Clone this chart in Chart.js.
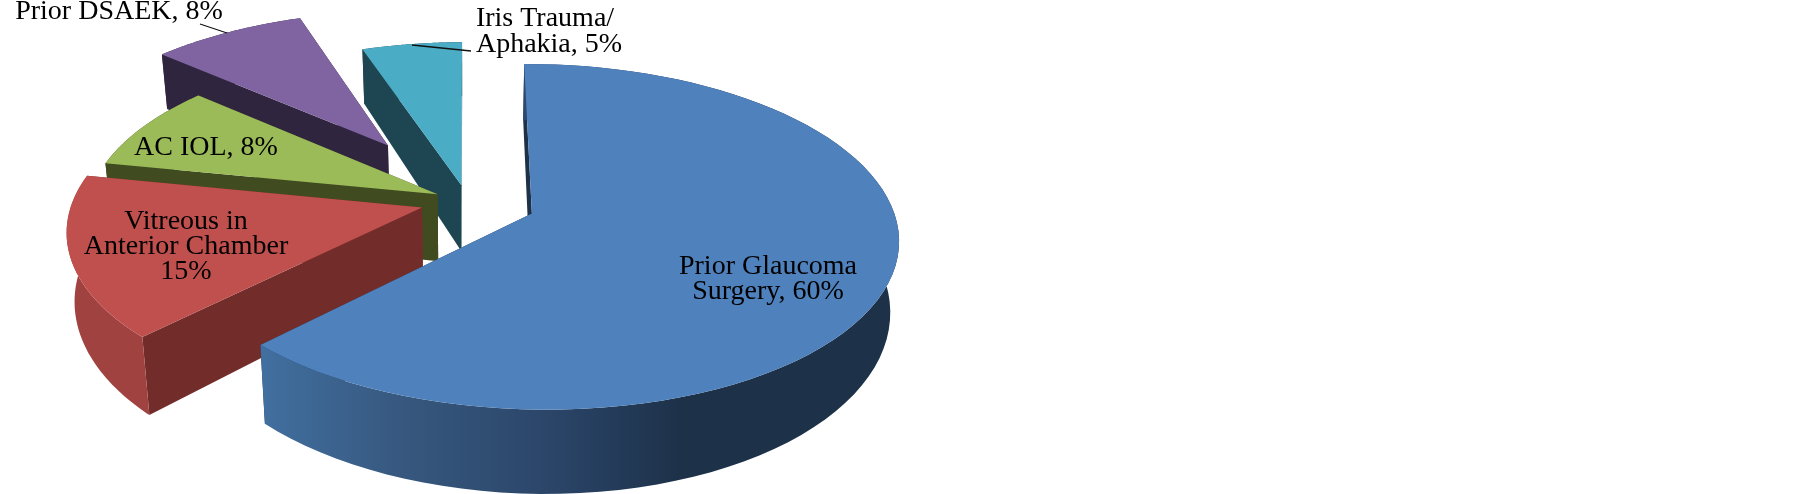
<!DOCTYPE html>
<html>
<head>
<meta charset="utf-8">
<style>
  html, body { margin: 0; padding: 0; background: #fff; }
  canvas { display: block; }
</style>
<script src="https://cdn.jsdelivr.net/npm/chart.js@4/dist/chart.umd.min.js"></script>
</head>
<body>
<canvas id="pie3d" width="1805" height="494"></canvas>
<script>
// --- Data ---
const categories = ['Prior Glaucoma Surgery', 'Vitreous in Anterior Chamber', 'AC IOL', 'Prior DSAEK', 'Iris Trauma/Aphakia'];
const percentValues = [60, 15, 8, 8, 5];

// --- Slice styles ---
const topColors = ['#4f81bd', '#c0504d', '#9bbb59', '#8064a2', '#4bacc6'];
const cutColors = ['#1d3149', '#722d2b', '#404b20', '#30253f', '#1e4652'];
const explode = [40, 27, 19, 86, 20];

// outer wall shading, left to right (x in canvas px)
const wallStops = [
    [[263, '#416f9f'], [400, '#37587f'], [560, '#2a4467'], [680, '#1d3149'], [900, '#1d3149']],
    [[66, '#a04340'], [142, '#a04340']],
    [[100, '#404b20'], [200, '#404b20']],
    [[160, '#30253f'], [300, '#30253f']],
    [[360, '#1e4652'], [470, '#1e4652']]
];

// --- Label layout: text lines, centre x, first baseline ---
const labelLayout = [
    { lines: ['Prior Glaucoma', 'Surgery, 60%'], x: 768, y: 274 },
    { lines: ['Vitreous in', 'Anterior Chamber', '15%'], x: 186, y: 229 },
    { lines: ['AC IOL, 8%'], x: 206, y: 155 },
    { lines: ['Prior DSAEK, 8%'], x: 119, y: 19 },
    { lines: ['Iris Trauma/'], x: 545, y: 26 },
    { lines: ['Aphakia, 5%'], x: 549, y: 52 }
];
const leaderLines = [
    [200, 24, 227, 33],
    [412, 45, 471, 51]
];

// Camera used to lay the flat pie down
const view = { cx: 467, cy: 201, A: 354, B: 166, D: 69, p: 0.133, q: 0.02, r: 0.01, g: 0.12 };

function project(u, v, z) {
    const s = 1 / (1 - view.p * v - view.r * u + view.q * z);
    return [view.cx + view.A * u * s, view.cy + (view.B * v + view.D * z * (1 + view.g * v)) * s];
}

function polygon(ctx, pts) {
    ctx.beginPath();
    pts.forEach((pt, i) => i ? ctx.lineTo(pt[0], pt[1]) : ctx.moveTo(pt[0], pt[1]));
    ctx.closePath();
}

// Draws the arcs that chart.js computed as tilted wedges with depth
const tiltedPie = {
    id: 'tiltedPie',
    beforeDatasetsDraw(chart) {
        const ctx = chart.ctx;
        const arcs = chart.getDatasetMeta(0).data;

        for (let i = arcs.length - 1; i >= 0; i--) {
            const arc = arcs[i];
            const R = arc.outerRadius;
            const mid = (arc.startAngle + arc.endAngle) / 2;
            const ox = Math.cos(mid) * arc.options.offset / R;
            const oy = Math.sin(mid) * arc.options.offset / R;

            const rim = [];
            const steps = 80;
            for (let k = 0; k <= steps; k++) {
                const a = arc.startAngle + (arc.endAngle - arc.startAngle) * k / steps;
                rim.push([ox + Math.cos(a), oy + Math.sin(a)]);
            }
            const topRim = rim.map(p => project(p[0], p[1], 0));
            const lowRim = rim.map(p => project(p[0], p[1], 1));
            const apexTop = project(ox, oy, 0);
            const apexLow = project(ox, oy, 1);

            // cut faces
            ctx.fillStyle = cutColors[i];
            polygon(ctx, [apexTop, topRim[0], lowRim[0], apexLow]);
            ctx.fill();
            polygon(ctx, [apexTop, topRim[steps], lowRim[steps], apexLow]);
            ctx.fill();

            // outer wall
            const stops = wallStops[i];
            const x0 = stops[0][0];
            const x1 = stops[stops.length - 1][0];
            const grad = ctx.createLinearGradient(x0, 0, x1, 0);
            stops.forEach(s => grad.addColorStop((s[0] - x0) / (x1 - x0), s[1]));
            ctx.fillStyle = grad;
            polygon(ctx, topRim.concat(lowRim.slice().reverse()));
            ctx.fill();

            // top face
            ctx.fillStyle = arc.options.backgroundColor;
            polygon(ctx, [apexTop].concat(topRim));
            ctx.fill();
        }
        return false;
    },
    // afterDatasetsDraw is skipped once the hook above cancels, so labels go here
    afterDraw(chart) {
        const ctx = chart.ctx;
        ctx.save();
        ctx.strokeStyle = '#111';
        ctx.lineWidth = 1.3;
        leaderLines.forEach(l => {
            ctx.beginPath();
            ctx.moveTo(l[0], l[1]);
            ctx.lineTo(l[2], l[3]);
            ctx.stroke();
        });
        ctx.fillStyle = '#000';
        ctx.font = '28px "Liberation Serif"';
        ctx.textAlign = 'center';
        ctx.textBaseline = 'alphabetic';
        labelLayout.forEach(lab => {
            lab.lines.forEach((t, n) => ctx.fillText(t, lab.x, lab.y + n * 25));
        });
        ctx.restore();
    }
};

new Chart(document.getElementById('pie3d'), {
    type: 'pie',
    data: {
        labels: categories,
        datasets: [{
            data: percentValues,
            backgroundColor: topColors,
            offset: explode,
            hoverOffset: 0,
            borderWidth: 0
        }]
    },
    options: {
        responsive: false,
        animation: false,
        plugins: { legend: { display: false }, tooltip: { enabled: false } }
    },
    plugins: [tiltedPie]
});
</script>
</body>
</html>
